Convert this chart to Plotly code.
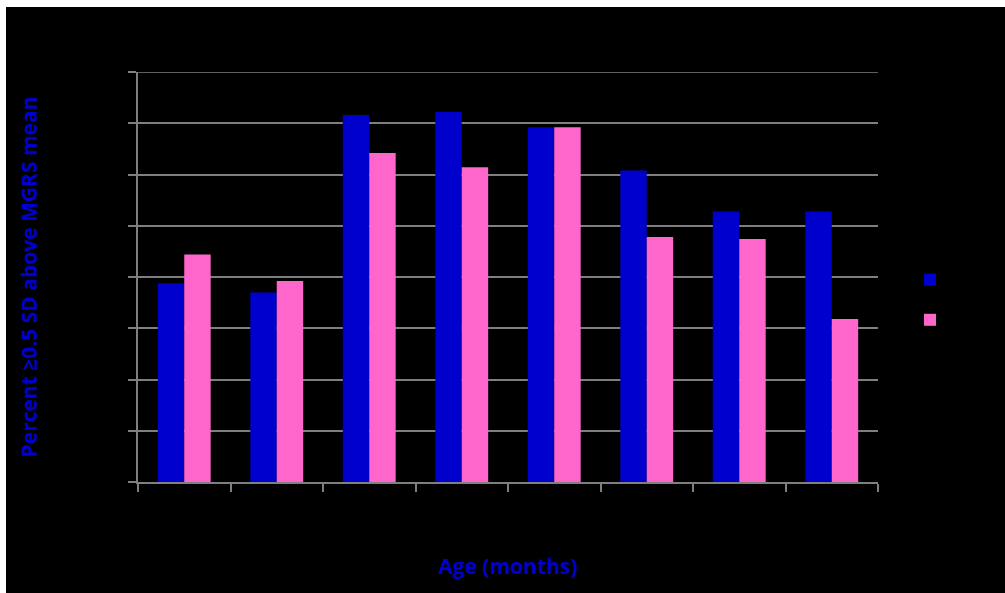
import plotly.graph_objects as go

# Age groups (months) and percentages of children ≥0.5 SD above the MGRS mean
age_groups = ["0–5", "6–11", "12–17", "18–23", "24–29", "30–35", "36–47", "48–59"]
boys = [19.4, 18.5, 35.8, 36.1, 34.6, 30.4, 26.4, 26.4]
girls = [22.2, 19.6, 32.1, 30.7, 34.6, 23.9, 23.7, 15.9]
y_ticks = [0, 5, 10, 15, 20, 25, 30, 35, 40]

BLUE = "#0000CC"
PINK = "#FF66CC"
GRID = "#7F7F7F"
FONT = "Open Sans"

fig = go.Figure()
fig.add_trace(go.Bar(x=age_groups, y=boys, name="Boys", marker_color=BLUE,
                     marker_line_width=0, legendgroup="a"))
fig.add_trace(go.Bar(x=age_groups, y=girls, name="Girls", marker_color=PINK,
                     marker_line_width=0, legendgroup="b"))

W, H = 1005, 593
L, R, T, B = 138, 127, 72, 111
pw, ph = W - L - R, H - T - B

def px_x(p):
    return (p - L) / pw

def px_y(p):
    return (H - B - p) / ph

fig.update_layout(
    width=W, height=H,
    margin=dict(l=L, r=R, t=T, b=B),
    paper_bgcolor="black",
    plot_bgcolor="black",
    barmode="group",
    bargap=1.5 / 3.5,
    bargroupgap=0,
    font=dict(family=FONT, color="black", size=14),
    showlegend=True,
    legend=dict(
        x=px_x(910), y=px_y(264), xanchor="left", yanchor="top",
        bgcolor="rgba(0,0,0,0)", font=dict(size=14, color="black"),
        tracegroupgap=19, traceorder="grouped",
    ),
    xaxis=dict(
        showgrid=False, showline=True, linecolor=GRID, linewidth=1.5,
        ticks="outside", tickson="boundaries", ticklen=8, tickcolor=GRID,
        tickwidth=1.5, tickfont=dict(color="black", size=14, family=FONT),
        title=dict(text="<b>Age (months)</b>", standoff=56,
                   font=dict(color=BLUE, size=21, family=FONT)),
    ),
    yaxis=dict(
        range=[0, 40], tickvals=y_ticks, showgrid=True, gridcolor=GRID,
        gridwidth=1.5, showline=True, linecolor=GRID, linewidth=1.5,
        ticks="outside", ticklen=8, tickcolor=GRID, tickwidth=1.5,
        zeroline=False, tickfont=dict(color="black", size=14, family=FONT),
        title=dict(text="<b>Percent ≥0.5 SD above MGRS mean</b>", standoff=66,
                   font=dict(color=BLUE, size=21, family=FONT)),
    ),
    shapes=[
        # gridline at the top of the value axis
        dict(type="line", xref="paper", yref="y", x0=0, x1=1,
             y0=y_ticks[-1], y1=y_ticks[-1], line=dict(color=GRID, width=1.5)),
        # white page edge along the top and left
        dict(type="rect", xref="paper", yref="paper",
             x0=px_x(0), x1=px_x(W), y0=px_y(7), y1=px_y(0),
             fillcolor="white", line_width=0, layer="above"),
        dict(type="rect", xref="paper", yref="paper",
             x0=px_x(0), x1=px_x(6), y0=px_y(H), y1=px_y(0),
             fillcolor="white", line_width=0, layer="above"),
    ],
)

fig.write_html("out.html")
